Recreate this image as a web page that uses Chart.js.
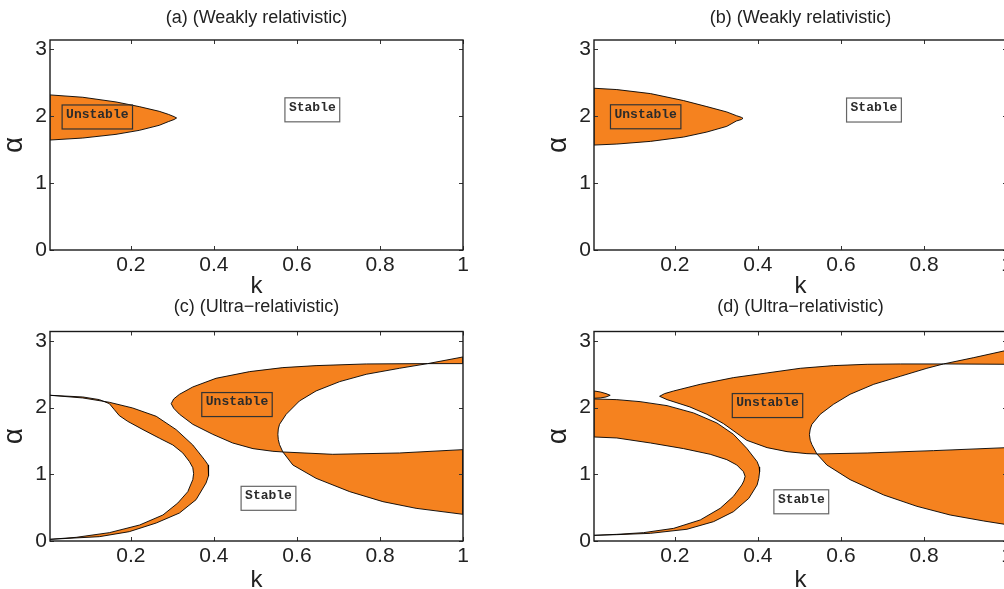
<!DOCTYPE html>
<html lang="en">
<head>
<meta charset="UTF-8">
<title>Stability regions</title>
<script src="https://cdn.jsdelivr.net/npm/chart.js"></script>
<style>
    html, body {
        margin: 0;
        padding: 0;
        background: #fff;
        overflow: hidden;
        width: 1004px;
        height: 589px;
    }
    .panel { position: absolute; width: 480px; }
    #pa { left: 0; top: 0; height: 305px; }
    #pb { left: 544px; top: 0; height: 305px; }
    #pc { left: 0; top: 289px; height: 307px; }
    #pd { left: 544px; top: 289px; height: 307px; }
</style>
</head>
<body>
<div class="panel" id="pa"><canvas id="ca"></canvas></div>
<div class="panel" id="pb"><canvas id="cb"></canvas></div>
<div class="panel" id="pc"><canvas id="cc"></canvas></div>
<div class="panel" id="pd"><canvas id="cd"></canvas></div>

<script>
// axis ticks
const xTicks = [0.2, 0.4, 0.6, 0.8, 1];
const yTicks = [0, 1, 2, 3];

// boundary curves, [k, alpha] pairs
// (a) weakly relativistic
const aUnstable = [[0.005,2.32],[0.084,2.285],[0.164,2.215],[0.22,2.145],[0.268,2.075],[0.29,2.03],[0.304,1.995],[0.31,1.975],
    [0.304,1.952],[0.29,1.92],[0.268,1.865],[0.22,1.79],[0.164,1.73],[0.084,1.675],[0.005,1.645]];

// (b) weakly relativistic
const bUnstable = [[0.005,2.42],[0.06,2.40],[0.141,2.34],[0.221,2.235],[0.277,2.145],[0.325,2.065],[0.348,2.01],[0.36,1.985],[0.364,1.97],
    [0.36,1.952],[0.348,1.93],[0.325,1.85],[0.277,1.765],[0.221,1.69],[0.141,1.625],[0.06,1.585],[0.005,1.57]];

// (c) ultra-relativistic
const cCrescentOuter = [[0.005,2.185],[0.084,2.145],[0.148,2.08],[0.204,1.995],[0.261,1.87],[0.309,1.67],[0.349,1.44],
    [0.377,1.22],[0.386,1.14],[0.388,1.07],[0.386,0.98],[0.381,0.87],[0.357,0.62],[0.317,0.42],[0.261,0.27],[0.196,0.14],[0.124,0.065],[0.005,0.025]];
const cCrescentInner = [[0.005,2.185],[0.084,2.16],[0.124,2.12],[0.148,2.06],[0.160,1.97],[0.172,1.88],[0.192,1.795],
    [0.229,1.67],[0.269,1.54],[0.301,1.44],[0.325,1.32],[0.341,1.19],[0.349,1.10],[0.351,1.01],[0.349,0.92],[0.337,0.74],
    [0.313,0.57],[0.277,0.39],[0.221,0.24],[0.148,0.125],[0.068,0.055],[0.005,0.025]];
const cTongueUpper = [[0.297,2.06],[0.303,2.13],[0.317,2.20],[0.349,2.31],[0.405,2.44],[0.486,2.54],[0.566,2.60],[0.646,2.63],[0.767,2.655],[0.915,2.66]];
const cTongueLower = [[0.297,2.06],[0.303,1.99],[0.317,1.90],[0.349,1.75],[0.397,1.60],[0.445,1.47],[0.494,1.385],[0.542,1.345],[0.566,1.335]];
const cTopLine = [[0.915,2.66],[1.0,2.66]];
const cMidLine = [[0.566,1.335],[0.686,1.30],[0.847,1.32],[1.0,1.37]];
const cParabolaUp = [[0.554,1.60],[0.555,1.68],[0.558,1.75],[0.574,1.90],[0.606,2.10],[0.646,2.25],[0.703,2.39],[0.767,2.50],[0.847,2.59],[0.915,2.66]];
const cParabolaUpEnd = [[0.915,2.66],[1.0,2.76]];
const cParabolaLow = [[0.554,1.60],[0.555,1.52],[0.558,1.445],[0.566,1.335]];
const cParabolaLowEnd = [[0.566,1.335],[0.59,1.14],[0.646,0.94],[0.727,0.74],[0.807,0.59],[0.887,0.49],[1.0,0.40]];

// (d) ultra-relativistic
const dBlob = [[0.005,2.25],[0.02,2.235],[0.034,2.21],[0.044,2.185],[0.034,2.16],[0.02,2.145],[0.005,2.14]];
const dBandOuter = [[0.005,2.13],[0.06,2.12],[0.116,2.09],[0.181,2.03],[0.245,1.92],[0.301,1.77],[0.341,1.60],[0.373,1.39],
    [0.398,1.19],[0.403,1.11],[0.404,1.04],[0.402,0.94],[0.398,0.84],[0.378,0.64],[0.341,0.44],[0.293,0.29],[0.229,0.176],[0.141,0.115],[0.06,0.095],[0.005,0.085]];
const dBandInner = [[0.005,1.56],[0.06,1.545],[0.141,1.47],[0.221,1.385],[0.285,1.30],[0.325,1.22],[0.349,1.14],[0.365,1.04],
    [0.369,0.97],[0.366,0.90],[0.361,0.84],[0.341,0.67],[0.309,0.49],[0.261,0.316],[0.197,0.19],[0.124,0.125],[0.06,0.10],[0.005,0.085]];
const dTongueUpper = [[0.163,2.17],[0.175,2.21],[0.197,2.25],[0.261,2.35],[0.341,2.45],[0.422,2.52],[0.502,2.59],[0.582,2.63],[0.663,2.65],[0.743,2.655],[0.847,2.655]];
const dTongueLower = [[0.163,2.17],[0.181,2.12],[0.236,2.01],[0.277,1.90],[0.317,1.76],[0.373,1.51],[0.422,1.40],[0.47,1.34],[0.518,1.31],[0.542,1.305]];
const dTopLine = [[0.847,2.655],[1.0,2.65]];
const dMidLine = [[0.542,1.305],[0.663,1.32],[0.823,1.355],[1.0,1.40]];
const dParabolaUp = [[0.524,1.595],[0.526,1.68],[0.53,1.75],[0.55,1.90],[0.582,2.05],[0.622,2.20],[0.679,2.35],[0.743,2.47],[0.807,2.59],[0.847,2.655]];
const dParabolaUpEnd = [[0.847,2.655],[0.92,2.75],[1.0,2.86]];
const dParabolaLow = [[0.524,1.595],[0.526,1.51],[0.53,1.445],[0.542,1.305]];
const dParabolaLowEnd = [[0.542,1.305],[0.566,1.14],[0.622,0.92],[0.703,0.69],[0.783,0.52],[0.863,0.39],[0.944,0.30],[1.0,0.245]];

const orange = '#f5821f';

// glue boundary pieces into one closed outline
function join(...parts) {
    const out = [];
    parts.forEach(p => p.forEach(pt => {
        const last = out[out.length - 1];
        if (!last || last[0] !== pt[0] || last[1] !== pt[1]) out.push(pt);
    }));
    if (out.length && (out[0][0] !== out[out.length - 1][0] || out[0][1] !== out[out.length - 1][1])) out.push(out[0]);
    return out;
}
const rev = a => a.slice().reverse();

const frame = {
    id: 'frame',
    afterDatasetsDraw(chart) {
        const {ctx, chartArea: a, scales: {x, y}} = chart;
        ctx.save();
        ctx.strokeStyle = '#333';
        ctx.lineWidth = 1;
        ctx.beginPath();
        x.ticks.forEach(t => {
            const px = Math.round(x.getPixelForValue(t.value)) + 0.5;
            ctx.moveTo(px, a.bottom); ctx.lineTo(px, a.bottom - 4);
            ctx.moveTo(px, a.top); ctx.lineTo(px, a.top + 4);
        });
        y.ticks.forEach(t => {
            const py = Math.round(y.getPixelForValue(t.value)) + 0.5;
            ctx.moveTo(a.left, py); ctx.lineTo(a.left + 4, py);
            ctx.moveTo(a.right, py); ctx.lineTo(a.right - 4, py);
        });
        ctx.stroke();
        ctx.strokeStyle = '#1a1a1a';
        ctx.lineWidth = 1.4;
        ctx.strokeRect(a.left, a.top, a.right - a.left, a.bottom - a.top);
        ctx.restore();
    }
};

// boxed "Unstable" / "Stable" labels, one plugin per chart
function makeNotes(items) {
    return {
        id: 'notes',
        afterDraw(chart) {
            const {ctx, scales: {x, y}} = chart;
            ctx.save();
            ctx.font = 'bold 13px "Liberation Mono", "DejaVu Sans Mono", monospace';
            ctx.textAlign = 'center';
            ctx.textBaseline = 'middle';
            items.forEach(n => {
                const cx = x.getPixelForValue(n.k), cy = y.getPixelForValue(n.a);
                const w = ctx.measureText(n.text).width + 8, h = 24;
                if (n.bg) {
                    ctx.fillStyle = n.bg;
                    ctx.fillRect(cx - w / 2, cy - h / 2, w, h);
                }
                ctx.strokeStyle = n.edge;
                ctx.lineWidth = 1.2;
                ctx.strokeRect(cx - w / 2, cy - h / 2, w, h);
                ctx.fillStyle = '#2b2b2b';
                ctx.fillText(n.text, cx, cy - 2.5);
            });
            ctx.restore();
        }
    };
}

Chart.defaults.font.family = '"Liberation Sans", Arial, sans-serif';
Chart.defaults.color = '#222';

function makePanel(id, title, polys, items, row) {
    new Chart(document.getElementById(id), {
        type: 'scatter',
        data: {
            datasets: polys.map(pts => ({
                data: pts.map(([k, a]) => ({x: k, y: a})),
                showLine: true,
                fill: 'shape',
                backgroundColor: orange,
                borderColor: '#000',
                borderWidth: 0.9,
                pointRadius: 0,
                tension: 0
            }))
        },
        options: {
            responsive: true,
            maintainAspectRatio: false,
            animation: false,
            layout: {padding: {left: 0, right: 17, top: 0, bottom: 0}},
            plugins: {
                legend: {display: false},
                tooltip: {enabled: false},
                title: {
                    display: true,
                    text: title,
                    fullSize: false,
                    color: '#222',
                    font: {size: 18, weight: 'normal'},
                    padding: {top: 7.2, bottom: row.titleGap}
                }
            },
            scales: {
                x: {
                    type: 'linear',
                    min: 0.005,
                    max: 1,
                    afterBuildTicks: s => { s.ticks = xTicks.map(v => ({value: v})); },
                    afterFit: s => { s.height = 55; },
                    grid: {display: false, drawTicks: false},
                    border: {display: false},
                    ticks: {padding: 3, autoSkip: false, maxRotation: 0, font: {size: 21}, callback: v => String(v)},
                    title: {display: true, text: 'k', font: {size: 24, lineHeight: 1}, padding: {top: 0, bottom: row.kPad}}
                },
                y: {
                    type: 'linear',
                    min: 0,
                    max: Math.PI,
                    afterBuildTicks: s => { s.ticks = yTicks.map(v => ({value: v})); },
                    afterFit: s => { s.width = 50; },
                    grid: {display: false, drawTicks: false},
                    border: {display: false},
                    ticks: {padding: 3, autoSkip: false, font: {size: 21}, callback: v => String(v)},
                    title: {display: true, text: 'α', font: {size: 28, lineHeight: 1}, padding: 0}
                }
            }
        },
        plugins: [frame, makeNotes(items)]
    });
}

const topRow = {titleGap: 11.2, kPad: 6.3};
const bottomRow = {titleGap: 13.7, kPad: 4};

makePanel('ca', '(a) (Weakly relativistic)', [
    join(aUnstable)
], [
    {text: 'Unstable', k: 0.119, a: 1.99, edge: '#333'},
    {text: 'Stable', k: 0.637, a: 2.097, edge: '#666', bg: '#fff'}
], topRow);

makePanel('cb', '(b) (Weakly relativistic)', [
    join(bUnstable)
], [
    {text: 'Unstable', k: 0.1295, a: 1.993, edge: '#333'},
    {text: 'Stable', k: 0.6795, a: 2.094, edge: '#666', bg: '#fff'}
], topRow);

makePanel('cc', '(c) (Ultra\u2212relativistic)', [
    join(cCrescentOuter, rev(cCrescentInner)),
    join(cTongueUpper, rev(cParabolaUp), cParabolaLow, rev(cTongueLower)),
    join(cMidLine, rev(cParabolaLowEnd)),
    join(cParabolaUpEnd, rev(cTopLine))
], [
    {text: 'Unstable', k: 0.4555, a: 2.046, edge: '#333'},
    {text: 'Stable', k: 0.5314, a: 0.64, edge: '#666', bg: '#fff'}
], bottomRow);

makePanel('cd', '(d) (Ultra\u2212relativistic)', [
    join(dBlob),
    join(dBandOuter, rev(dBandInner)),
    join(dTongueUpper, rev(dParabolaUp), dParabolaLow, rev(dTongueLower)),
    join(dMidLine, rev(dParabolaLowEnd)),
    join(dParabolaUpEnd, rev(dTopLine))
], [
    {text: 'Unstable', k: 0.423, a: 2.031, edge: '#333'},
    {text: 'Stable', k: 0.5044, a: 0.588, edge: '#666', bg: '#fff'}
], bottomRow);
</script>
</body>
</html>
